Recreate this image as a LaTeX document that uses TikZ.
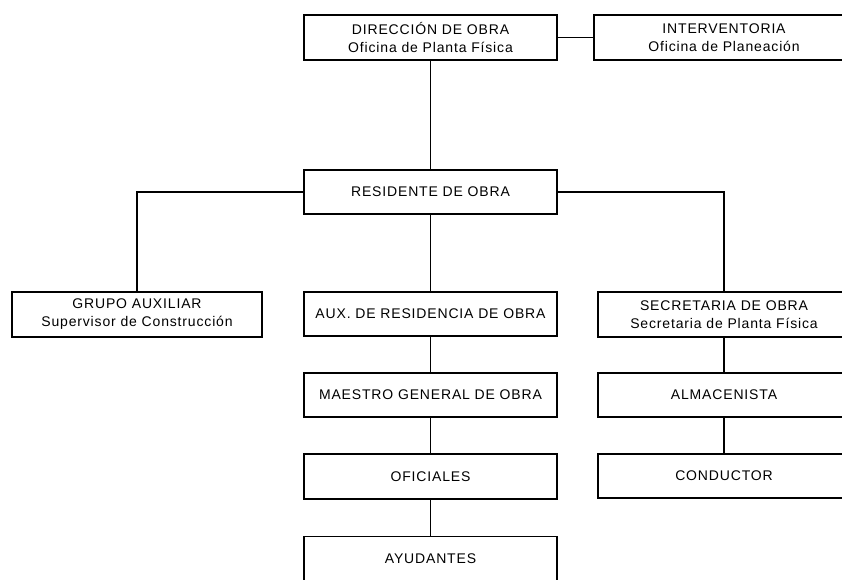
\documentclass[tikz,border=0pt]{standalone}
\usepackage{fontspec}
\setmainfont{Liberation Sans}[LetterSpace=6]
\begin{document}
\begin{tikzpicture}[x=1pt,y=-1pt,
box/.style={draw,line width=1.3pt,minimum width=253pt,minimum height=45pt,inner sep=0pt,align=center,font=\fontsize{14}{18}\selectfont},
rbox/.style={box,minimum width=252pt},
link/.style={line width=1.3pt}]
\clip (0,0) rectangle (842,579);
\fill[white] (0,0) rectangle (842,579);
% top row
\node[box] (dir) at (430.5,37.5) {DIRECCIÓN DE OBRA\\Oficina de Planta Física};
\node[box,minimum width=260pt] (inter) at (724,37.5) {INTERVENTORIA\\Oficina de Planeación};
\node[box,minimum height=44pt] (res) at (430.5,192) {RESIDENTE DE OBRA};
% second level
\node[box,minimum width=250pt] (grupo) at (137,314.5) {GRUPO AUXILIAR\\Supervisor de Construcción};
\node[box,minimum height=44pt] (aux) at (430.5,314) {AUX. DE RESIDENCIA DE OBRA};
\node[rbox] (secre) at (724,314.5) {SECRETARIA DE OBRA\\Secretaria de Planta Física};
% center column
\node[box,minimum height=44pt] (maestro) at (430.5,395) {MAESTRO GENERAL DE OBRA};
\node[box] (ofic) at (430.5,476.5) {OFICIALES};
\node[box] (ayud) at (430.5,559) {AYUDANTES};
% right column
\node[rbox,minimum height=44pt] (alma) at (724,395) {ALMACENISTA};
\node[rbox,minimum height=44pt] (cond) at (724,476) {CONDUCTOR};
% links
\draw[link] (dir.east) -- (inter.west);
\draw[link] (dir.south) -- (res.north);
\draw[link] (res.west) -| (grupo.north);
\draw[link] (res.east) -| (secre.north);
\draw[link] (res.south) -- (aux.north);
\draw[link] (aux.south) -- (maestro.north);
\draw[link] (maestro.south) -- (ofic.north);
\draw[link] (ofic.south) -- (ayud.north);
\draw[link] (secre.south) -- (alma.north);
\draw[link] (alma.south) -- (cond.north);
\end{tikzpicture}
\end{document}
